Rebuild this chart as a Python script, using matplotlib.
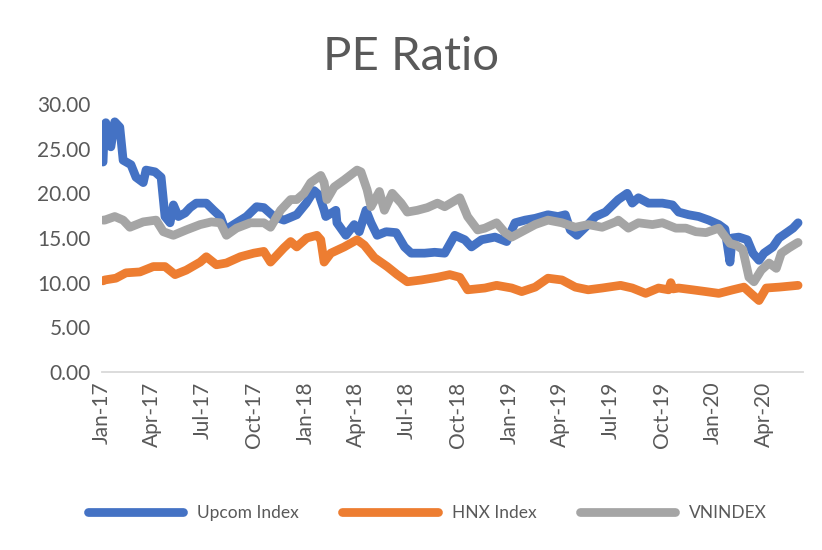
import matplotlib
matplotlib.use("Agg")
import matplotlib.pyplot as plt
import matplotlib.dates as mdates
import pandas as pd

# Dati (valori approssimati)
upcom_dates = ["2017-01-03", "2017-01-05", "2017-01-08", "2017-01-17", "2017-01-24", "2017-02-02",
               "2017-02-08", "2017-02-22", "2017-03-03", "2017-03-16", "2017-03-21", "2017-04-06",
               "2017-04-17", "2017-04-24", "2017-05-03", "2017-05-09", "2017-05-18", "2017-05-30",
               "2017-06-08", "2017-06-19", "2017-07-07", "2017-07-20", "2017-08-01", "2017-08-10",
               "2017-08-25", "2017-09-17", "2017-10-05", "2017-10-18", "2017-11-05", "2017-11-23",
               "2017-12-16", "2018-01-02", "2018-01-16", "2018-01-25", "2018-02-03", "2018-02-06",
               "2018-02-24", "2018-02-26", "2018-03-14", "2018-03-29", "2018-04-07", "2018-04-19",
               "2018-04-28", "2018-05-09", "2018-05-25", "2018-06-12", "2018-06-27", "2018-07-09",
               "2018-08-02", "2018-08-20", "2018-09-07", "2018-09-25", "2018-10-13", "2018-10-25",
               "2018-11-12", "2018-12-06", "2018-12-27", "2019-01-11", "2019-01-29", "2019-02-16",
               "2019-03-11", "2019-03-29", "2019-04-11", "2019-04-20", "2019-05-02", "2019-05-17",
               "2019-06-04", "2019-06-22", "2019-07-10", "2019-07-15", "2019-07-31", "2019-08-09",
               "2019-08-20", "2019-09-07", "2019-10-02", "2019-10-20", "2019-10-31", "2019-11-18",
               "2019-12-06", "2019-12-24", "2020-01-11", "2020-01-22", "2020-01-31", "2020-02-04",
               "2020-02-16", "2020-03-02", "2020-03-12", "2020-03-23", "2020-04-01", "2020-04-17",
               "2020-04-28", "2020-05-14", "2020-05-23", "2020-06-01"]
upcom_values = [23.5, 27.0, 27.9, 25.2, 28.0, 27.4,
                23.7, 23.2, 21.8, 21.2, 22.6, 22.4,
                21.8, 17.4, 16.7, 18.7, 17.4, 17.8,
                18.4, 18.9, 18.9, 18.1, 17.4, 15.9,
                16.5, 17.4, 18.5, 18.4, 17.4, 17.0,
                17.6, 18.9, 20.3, 19.8, 18.1, 17.4,
                18.1, 16.7, 15.3, 16.5, 15.7, 18.1,
                16.7, 15.3, 15.7, 15.6, 14.0, 13.3,
                13.3, 13.4, 13.3, 15.3, 14.8, 14.0,
                14.8, 15.1, 14.6, 16.7, 17.0, 17.2,
                17.6, 17.4, 17.6, 15.9, 15.3, 16.2,
                17.4, 17.9, 19.0, 19.3, 20.0, 18.9,
                19.5, 18.9, 18.9, 18.7, 17.9, 17.6,
                17.4, 17.0, 16.5, 16.0, 12.3, 15.0,
                15.1, 14.8, 13.3, 12.5, 13.3, 14.0,
                15.0, 15.7, 16.1, 16.7]

hnx_dates = ["2017-01-03", "2017-01-06", "2017-01-26", "2017-02-13", "2017-03-10", "2017-04-03",
             "2017-04-24", "2017-05-12", "2017-06-01", "2017-06-26", "2017-07-07", "2017-07-25",
             "2017-08-12", "2017-09-06", "2017-09-30", "2017-10-18", "2017-10-30", "2017-11-23",
             "2017-12-05", "2017-12-16", "2018-01-03", "2018-01-21", "2018-01-28", "2018-02-03",
             "2018-02-15", "2018-03-11", "2018-04-03", "2018-04-16", "2018-05-04", "2018-05-27",
             "2018-06-14", "2018-07-02", "2018-07-27", "2018-08-25", "2018-09-16", "2018-10-04",
             "2018-10-18", "2018-11-18", "2018-12-09", "2019-01-05", "2019-01-23", "2019-02-16",
             "2019-03-11", "2019-04-05", "2019-04-29", "2019-05-22", "2019-06-16", "2019-07-19",
             "2019-08-09", "2019-09-02", "2019-09-25", "2019-10-13", "2019-10-17", "2019-10-21",
             "2019-10-31", "2019-11-25", "2019-12-19", "2020-01-11", "2020-02-05", "2020-02-25",
             "2020-03-12", "2020-03-23", "2020-04-05", "2020-04-28", "2020-06-01"]
hnx_values = [10.2, 10.3, 10.5, 11.1, 11.2, 11.8,
              11.8, 10.9, 11.4, 12.3, 12.9, 12.0,
              12.2, 12.9, 13.3, 13.5, 12.3, 13.9,
              14.6, 14.0, 15.0, 15.3, 14.8, 12.3,
              13.3, 14.0, 14.8, 14.2, 12.8, 11.8,
              10.9, 10.1, 10.3, 10.6, 10.9, 10.6,
              9.2, 9.4, 9.7, 9.4, 9.0, 9.5,
              10.5, 10.3, 9.5, 9.2, 9.4, 9.7,
              9.4, 8.8, 9.4, 9.2, 10.0, 9.3,
              9.4, 9.2, 9.0, 8.8, 9.2, 9.5,
              8.6, 8.0, 9.4, 9.5, 9.7]

vn_dates = ["2017-01-03", "2017-01-06", "2017-01-24", "2017-02-08", "2017-02-20", "2017-03-16",
            "2017-04-08", "2017-04-21", "2017-05-09", "2017-06-01", "2017-06-26", "2017-07-16",
            "2017-08-01", "2017-08-12", "2017-08-30", "2017-09-24", "2017-10-18", "2017-10-30",
            "2017-11-17", "2017-12-05", "2017-12-16", "2017-12-29", "2018-01-10", "2018-01-28",
            "2018-02-03", "2018-02-08", "2018-02-21", "2018-03-11", "2018-04-03", "2018-04-10",
            "2018-04-21", "2018-04-28", "2018-05-13", "2018-05-22", "2018-06-05", "2018-06-21",
            "2018-07-02", "2018-07-20", "2018-08-07", "2018-08-25", "2018-09-07", "2018-10-04",
            "2018-10-18", "2018-11-05", "2018-11-18", "2018-12-09", "2018-12-24", "2019-01-05",
            "2019-01-23", "2019-02-16", "2019-03-11", "2019-04-05", "2019-04-29", "2019-05-22",
            "2019-06-16", "2019-07-10", "2019-07-15", "2019-08-02", "2019-08-20", "2019-09-14",
            "2019-10-02", "2019-10-26", "2019-11-13", "2019-12-01", "2019-12-19", "2020-01-11",
            "2020-01-31", "2020-02-11", "2020-02-23", "2020-03-05", "2020-03-14", "2020-03-27",
            "2020-04-10", "2020-04-23", "2020-05-02", "2020-05-16", "2020-05-29", "2020-06-01"]
vn_values = [17.0, 17.0, 17.4, 17.0, 16.2, 16.8,
             17.0, 15.7, 15.3, 15.9, 16.5, 16.8,
             16.7, 15.3, 16.1, 16.7, 16.7, 16.2,
             18.1, 19.3, 19.3, 20.0, 21.2, 22.0,
             21.2, 19.3, 20.7, 21.5, 22.6, 22.4,
             20.4, 18.5, 20.2, 18.1, 20.0, 18.9,
             17.9, 18.1, 18.4, 18.9, 18.5, 19.5,
             17.4, 15.9, 16.1, 16.7, 15.6, 15.1,
             15.7, 16.5, 17.0, 16.7, 16.2, 16.5,
             16.2, 16.8, 17.0, 16.1, 16.7, 16.5,
             16.7, 16.1, 16.1, 15.7, 15.6, 16.1,
             14.4, 14.2, 13.7, 10.6, 10.1, 11.4,
             12.2, 11.6, 13.3, 13.9, 14.4, 14.5]

series = [
    ("Upcom Index", upcom_dates, upcom_values, "#4472C4"),
    ("HNX Index", hnx_dates, hnx_values, "#ED7D31"),
    ("VNINDEX", vn_dates, vn_values, "#A5A5A5"),
]

tick_dates = pd.date_range("2017-01-01", "2020-04-01", freq="3MS")

plt.rcParams['font.family'] = ['Lato', 'DejaVu Sans']
text_col = "#595959"

fig = plt.figure(figsize=(8.22, 5.5), dpi=100)
ax = fig.add_axes([0.124, 0.3236, 0.853, 0.4874])

for name, d, v, c in series:
    ax.plot(pd.to_datetime(d), v, color=c, linewidth=6.3, label=name,
            solid_capstyle="round", solid_joinstyle="round")

ax.set_ylim(0, 30)
ax.set_yticks(range(0, 31, 5))
ax.yaxis.set_major_formatter(plt.FuncFormatter(lambda y, p: f"{y:.2f}"))
ax.set_xlim(pd.Timestamp("2017-01-02"), pd.Timestamp("2020-06-10"))
ax.set_xticks(tick_dates)
ax.xaxis.set_major_formatter(mdates.DateFormatter("%b-%y"))
plt.setp(ax.get_xticklabels(), rotation=90)

ax.tick_params(axis="both", length=0, labelsize=15, labelcolor=text_col)
ax.tick_params(axis="x", pad=7)
ax.tick_params(axis="y", pad=8)
for s in ["top", "right", "left"]:
    ax.spines[s].set_visible(False)
ax.spines["bottom"].set_color("#D9D9D9")
ax.spines["bottom"].set_linewidth(1.3)

fig.suptitle("PE Ratio", fontsize=34, color=text_col, y=0.935)

fig.legend(loc="lower center", bbox_to_anchor=(0.52, 0.025), ncol=3, frameon=False,
           fontsize=12.5, handlelength=5.5, columnspacing=2.5, labelcolor=text_col)

plt.savefig("out.png", dpi=100)
